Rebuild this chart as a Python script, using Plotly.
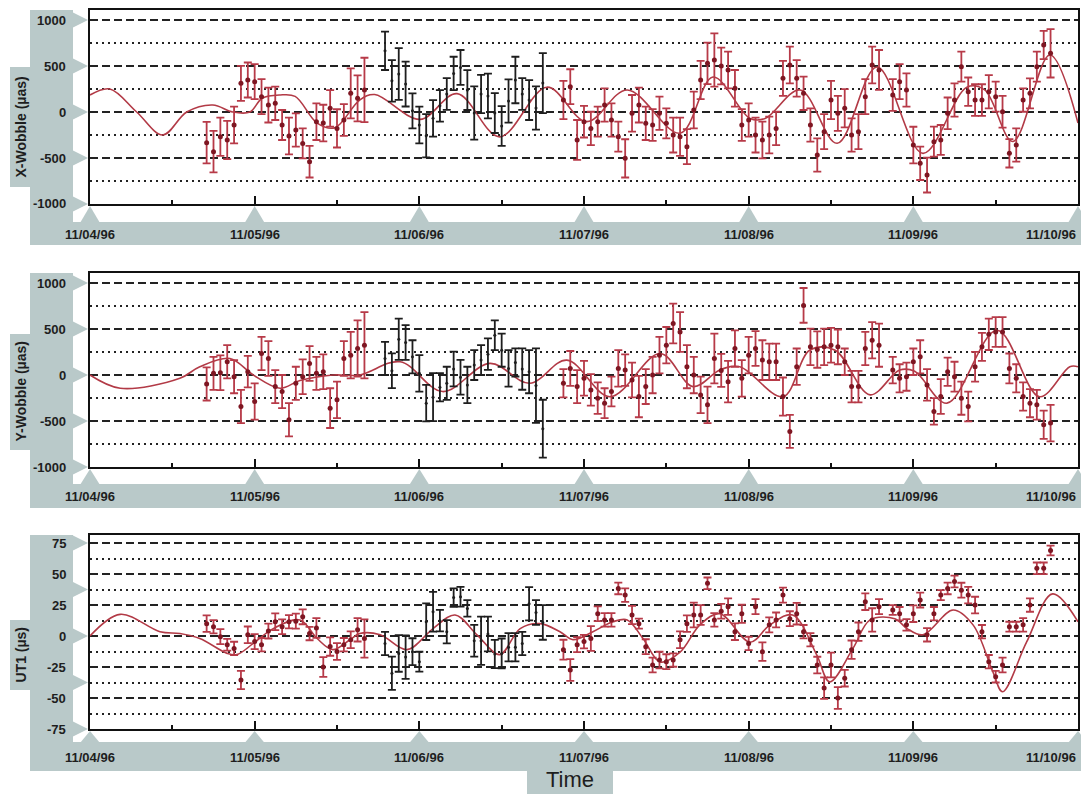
import plotly.graph_objects as go

W, H = 1081, 794
X0_PX, X1_PX = 90, 1078
H_MAX = 144  # hours shown (11/04 00:00 .. 11/10 00:00)

TICK_HOURS = [0, 24, 48, 72, 96, 120, 144]
TICK_LABELS = ["11/04/96", "11/05/96", "11/06/96", "11/07/96", "11/08/96", "11/09/96", "11/10/96"]

# observation epochs (hours since 11/04/96 00:00)
HOURS_RED = [17, 18, 19, 20, 21, 22, 23, 24, 25, 26, 27, 28, 29, 30, 31, 32, 33, 34, 35, 36, 37, 38, 39, 40,
             69, 70, 71, 72, 73, 74, 75, 76, 77, 78, 79, 80, 81, 82, 83, 84, 85, 86, 87, 88, 89, 90, 91, 92,
             93, 94, 95, 96, 97, 98, 99, 100, 101, 102, 103, 104, 105, 106, 107, 108, 109, 110, 111, 112, 113,
             114, 115,
             117, 118, 119, 120, 121, 122, 123, 124, 125, 126, 127, 128, 129, 130, 131, 132, 133, 134, 135,
             136, 137, 138, 139, 140]
HOURS_BLACK = [43, 44, 45, 46, 47, 48, 49, 50, 51, 52, 53, 54, 55, 56, 57, 58, 59, 60, 61, 62, 63, 64, 65, 66]

# ---- X-Wobble (µas) ----
X_RED = [-333, -431, -268, -304, -141, 312, 348, 330, 167, 76, 94, -141, -261, -196, -341, -540, -105, -120, 40,
         -178, -87, 203, 149, 240,
         130, 275, -304, -105, -178, -105, 76, -87, -268, -504, -14, 76, -123, -141, -14, -123, -250, -268, -377,
         22, 348, 529, 565, 500,
         457, 258, -141, -87, -250, -304, -250, -178, 366, 511, 366, 203, -141, -467, -214, 130, -14, 40, -250,
         -214, 167, 511, 457,
         185, 330, 239, -359, -558, -685, -322, -304, -14, 130, 493, 221, 130, 130, 221, 167, 3, -449, -359, 130,
         203, 493, 728, 638]
X_RED_ERR = [226, 226, 208, 208, 199, 190, 190, 190, 190, 190, 181, 163, 199, 181, 163, 172, 199, 199, 199, 208,
             172, 272, 250, 350,
             208, 190, 217, 172, 181, 163, 181, 181, 163, 208, 199, 190, 181, 172, 181, 163, 190, 208, 190, 199,
             208, 226, 290, 200,
             199, 199, 172, 181, 190, 199, 199, 181, 190, 199, 199, 181, 181, 181, 190, 208, 190, 208, 181, 190,
             190, 199, 217,
             172, 190, 181, 199, 181, 190, 163, 163, 172, 181, 163, 154, 172, 172, 181, 163, 172, 154, 181, 127,
             163, 163, 154, 263]
X_BLACK = [665, 339, 413, 304, 13, -141, -259, -69, 67, 196, 420, 484, 239, -11, 196, 174, -11, -152, 120, 348,
           196, 130, 43, 315]
X_BLACK_ERR = [208, 226, 281, 244, 190, 199, 235, 199, 172, 172, 181, 190, 217, 290, 208, 244, 217, 217, 235, 253,
               172, 217, 235, 326]
X_MODEL_H = [0, 2.9, 6.8, 10.6, 14.1, 17.9, 20.8, 23.3, 25.1, 27.7, 29.9, 33.1, 35.7, 39.3, 41.5, 48.1, 53.5,
             59.7, 66.6, 72.4, 78.3, 86.0, 90.8, 96.2, 98.4, 103.5, 108.9, 114.7, 121.4, 127.8, 130.4, 134.5,
             139.9, 144]
X_MODEL = [185, 250, 0, -250, 0, 76, 0, 0, 150, 185, 170, -120, -170, 130, 190, -80, 200, -270, 270, -105, 240,
           -230, 380, -70, -70, 240, -340, 490, -450, 270, 240, -320, 620, -120]

# ---- Y-Wobble (µas) ----
Y_RED = [-97, 18, 25, 144, -18, -342, 36, -288, 234, 180, -126, -180, -486, -90, -18, 126, 18, 36, -360, -270,
         180, 216, 288, 324,
         -90, 72, -126, -36, -162, -252, -306, -180, 72, 54, -54, -234, -126, 0, 216, 324, 559, 468, 90, 0, -216,
         -324, 180, 50,
         -72, 288, -36, 216, 288, 162, 144, 144, -234, -613, 90, 757, 306, 277, 306, 324, 306, 144, -126, -126,
         288, 378, 324,
         54, -36, -18, 144, 198, -108, -396, -234, 36, -18, -252, -342, 90, 306, 443, 468, 468, 72, -36, -234,
         -306, -324, -541, -523]
Y_RED_ERR = [180, 180, 189, 180, 180, 180, 171, 198, 180, 189, 180, 180, 180, 180, 189, 189, 180, 189, 216, 198,
             189, 252, 306, 360,
             153, 189, 180, 189, 171, 171, 162, 162, 198, 171, 189, 225, 189, 198, 198, 198, 216, 216, 234, 198,
             198, 198, 270, 180,
             225, 198, 198, 198, 189, 216, 198, 198, 207, 180, 198, 189, 198, 198, 198, 189, 189, 144, 171, 171,
             180, 198, 234,
             144, 153, 153, 144, 180, 171, 144, 189, 153, 162, 180, 162, 162, 153, 171, 162, 162, 162, 153, 153,
             153, 162, 153, 198]
Y_BLACK = [180, 47, 389, 353, 198, 18, -306, -241, -133, -90, 65, -25, -108, 108, 162, 227, 432, 270, 72, 137,
           65, 36, -115, -584]
Y_BLACK_ERR = [180, 189, 225, 189, 180, 198, 198, 261, 153, 180, 189, 189, 198, 162, 162, 171, 162, 180, 198, 153,
               225, 234, 405, 315]
Y_MODEL_H = [0, 4.4, 13.1, 16.0, 20.4, 23.8, 27.7, 30.6, 35.4, 39.3, 45.2, 51.4, 58.3, 64.1, 69.5, 75.8, 83.1,
             87.9, 91.8, 94.7, 101.0, 104.9, 108.6, 113.7, 118.0, 120.2, 124.9, 132.2, 138.4, 142.8, 144]
Y_MODEL = [0, -144, -36, 90, 180, 0, -144, -60, 0, 0, 144, -180, 126, -90, 162, -236, 234, -126, 54, 90, -236,
           270, 270, -216, 54, 40, -306, 487, -236, 90, 90]

# ---- UT1 (µs) ----
U_RED = [10, 7.5, -0.5, -7, -10, -35.5, 1, -4.5, -7, 4, 11.5, 7.5, 11.5, 12, 15.5, 2, 6.5, -25, -8.5, -12.5, -7,
         -3, 5, -2,
         -11, -27.4, -7, -4.5, -2, 18, 13, 13, 38.4, 33, 17, 10, -8.6, -23.4, -19.4, -20.7, -19.4, -3, 10, 17, 17,
         42.5, 13, 20,
         23.7, 3.5, 18, -6, 23.7, -12.6, 9, 13, 33, 14, 18, 3.5, -3, -23.4, -42, -23.4, -50, -34, -11, 3.5, 27.7,
         13, 23.7,
         21, 18, 9, 18, 29, 1, 18, 33, 38.4, 44, 37, 33, 25, 3.5, -20.7, -32.8, -23.4, 7.5, 7.5, 9, 25, 54.6,
         54.6, 69]
U_RED_ERR = [6.7, 5.4, 6, 4.7, 5.4, 7.4, 6.7, 6, 5.4, 6, 6.7, 6, 5.4, 6, 6, 5.4, 8, 8, 7.4, 6.7, 5.4, 6.7, 9.4,
             15.5,
             8, 8.7, 6, 5.4, 10, 6, 5.4, 5.4, 4.7, 5.4, 7.4, 4, 6, 6, 6.7, 6, 5.4, 6.7, 6.7, 10, 8, 4.7, 5.4, 6,
             6.7, 6.7, 7.4, 5.4, 6, 7.4, 6, 6, 6, 6, 8.7, 5.4, 5.4, 6.7, 8.7, 10, 8.7, 6.7, 7.4, 7.4, 6.7, 9.4, 6,
             4, 5.4, 4.7, 6.7, 6, 5.4, 5.4, 4, 4.7, 4.7, 6, 6.7, 6.7, 5.4, 5.4, 4.7, 6, 4, 4, 5.4, 5.4, 4.7, 4.7, 4]
U_BLACK = [-6, -30, -14, -17, -12.6, -20.7, 11.6, 19.6, 12.4, 3.5, 31, 31.7, 22.3, -3.8, -3.8, 1.6, -14.5, -14,
           -9, -9, -6, 26, 19, 11]
U_BLACK_ERR = [9.4, 13.4, 14.8, 17.5, 10.8, 8, 14.8, 16, 8.7, 9.4, 7.4, 8, 6.7, 12.8, 19.5, 14, 11.4, 12, 11.4,
               11.4, 9.4, 13.4, 10, 14]
U_MODEL_H = [0, 4.4, 10.2, 13.1, 16.0, 20.0, 21.4, 23.8, 26.7, 30.6, 33.1, 35.4, 37.9, 39.3, 42.3, 46.2, 50.0,
             53.2, 56.4, 59.7, 62.7, 65.6, 68.5, 70.4, 73.3, 76.2, 78.3, 80.6, 83.1, 86.0, 88.9, 91.8, 96.2, 99.1,
             102.4, 105.9, 107.8, 111.2, 113.7, 117.3, 119.1, 121.4, 125.8, 128.7, 131.6, 133.0, 136.5, 140.3, 144]
U_MODEL = [0, 17.5, 3.5, 2, -2, -14, -15, -6, 6, 13, -2, -11, -3, 2, 1, -11, 6, 17, 1, -15, 6, 10, 3.5, -3, 3.5,
           11.5, 13, -2, -21, -13, 9, 18, -5, 9, 17, -15, -37, -10, 13, 14, 6, 1, 21, 9, -29, -45, -5, 34, 11.5]

PANELS = [
    dict(title="X-Wobble (µas)", top=10, bottom=204, band_top=222, band_bot=245, label_y=234, strip=(67, 187),
         yrange=[-1000, 1109], dtick=500, minor=250, labels=[1000, 500, 0, -500, -1000],
         pointers=[1000, 500, 0, -500, -1000],
         red=X_RED, red_err=X_RED_ERR, black=X_BLACK, black_err=X_BLACK_ERR, mh=X_MODEL_H, mv=X_MODEL),
    dict(title="Y-Wobble (µas)", top=273, bottom=467, band_top=484, band_bot=508, label_y=496, strip=(334, 450),
         yrange=[-1000, 1109], dtick=500, minor=250, labels=[1000, 500, 0, -500, -1000],
         pointers=[1000, 500, 0, -500, -1000],
         red=Y_RED, red_err=Y_RED_ERR, black=Y_BLACK, black_err=Y_BLACK_ERR, mh=Y_MODEL_H, mv=Y_MODEL),
    dict(title="UT1 (µs)", top=535, bottom=729, band_top=742, band_bot=771, label_y=757, strip=(620, 690),
         yrange=[-75, 81.5], dtick=25, minor=12.5, labels=[75, 50, 25, 0, -25, -50, -75],
         pointers=[75, 37.5, 0, -37.5, -75],
         red=U_RED, red_err=U_RED_ERR, black=U_BLACK, black_err=U_BLACK_ERR, mh=U_MODEL_H, mv=U_MODEL),
]

BAND = "#b9c9c9"
INK = "#1e1e1e"
RED_LINE = "#b23a46"
RED_BAR = "#b73a48"
RED_DOT = "#7e1622"
FONT = "Liberation Sans, Arial, sans-serif"


def pxx(x):
    return x / W


def pxy(y):
    return 1 - y / H


def hour_px(h):
    return X0_PX + h / H_MAX * (X1_PX - X0_PX)


def val_py(p, v):
    lo, hi = p["yrange"]
    return p["top"] + (hi - v) / (hi - lo) * (p["bottom"] - p["top"])


fig = go.Figure()
shapes = []
annotations = []
layout = {}

for i, p in enumerate(PANELS):
    n = "" if i == 0 else str(i + 1)
    xref, yref = "x" + n, "y" + n
    # model curve
    fig.add_trace(go.Scatter(x=p["mh"], y=p["mv"], mode="lines", xaxis=xref, yaxis=yref,
                             line=dict(color=RED_LINE, width=1.6, shape="spline", smoothing=1.0),
                             hoverinfo="skip"))
    # black (other network) observations
    fig.add_trace(go.Scatter(x=HOURS_BLACK, y=p["black"], mode="markers", xaxis=xref, yaxis=yref,
                             marker=dict(size=3, color=INK),
                             error_y=dict(type="data", array=p["black_err"], color=INK, thickness=1.8, width=4)))
    # red observations
    fig.add_trace(go.Scatter(x=HOURS_RED, y=p["red"], mode="markers", xaxis=xref, yaxis=yref,
                             marker=dict(size=5, color=RED_DOT),
                             error_y=dict(type="data", array=p["red_err"], color=RED_BAR, thickness=1.8, width=4)))

    layout["xaxis" + n] = dict(domain=[X0_PX / W, X1_PX / W], range=[0, H_MAX], anchor=yref,
                               showgrid=False, zeroline=False, showline=True, linecolor="#111", linewidth=2,
                               mirror=True, ticks="inside", ticklen=8, tickwidth=2, tickcolor="#111",
                               tickmode="linear", tick0=0, dtick=24, showticklabels=False,
                               minor=dict(ticks="inside", ticklen=4, tickwidth=2, tickcolor="#111",
                                          tickmode="linear", tick0=0, dtick=12, showgrid=False))
    layout["yaxis" + n] = dict(domain=[pxy(p["bottom"]), pxy(p["top"])], range=p["yrange"], anchor=xref,
                               tickmode="linear", tick0=0, dtick=p["dtick"], showticklabels=False, ticks="",
                               showgrid=True, gridcolor="#222", gridwidth=1.5, griddash="8px,4px",
                               zeroline=False, showline=True, linecolor="#111", linewidth=2, mirror=True,
                               minor=dict(tickmode="linear", tick0=0, dtick=p["minor"], showgrid=True,
                                          gridcolor="#222", gridwidth=1.5, griddash="2px,4px"))

    # grey bands
    shapes.append(dict(type="rect", xref="paper", yref="paper", x0=pxx(30), x1=pxx(73),
                       y0=pxy(p["band_bot"]), y1=pxy(p["top"]), fillcolor=BAND, line=dict(width=0)))
    shapes.append(dict(type="rect", xref="paper", yref="paper", x0=pxx(30), x1=1.0,
                       y0=pxy(p["band_bot"]), y1=pxy(p["band_top"]), fillcolor=BAND, line=dict(width=0)))
    shapes.append(dict(type="rect", xref="paper", yref="paper", x0=pxx(10), x1=pxx(31),
                       y0=pxy(p["strip"][1]), y1=pxy(p["strip"][0]), fillcolor=BAND, line=dict(width=0)))
    for v in p["pointers"]:
        yy = val_py(p, v)
        path = "M {:.5f},{:.5f} L {:.5f},{:.5f} L {:.5f},{:.5f} Z".format(
            pxx(72), pxy(yy - 8), pxx(88), pxy(yy), pxx(72), pxy(yy + 8))
        shapes.append(dict(type="path", xref="paper", yref="paper", path=path, fillcolor=BAND,
                           line=dict(width=0)))
    for h in TICK_HOURS:
        xx = hour_px(h)
        path = "M {:.5f},{:.5f} L {:.5f},{:.5f} L {:.5f},{:.5f} Z".format(
            pxx(xx - 10), pxy(p["band_top"] + 1), pxx(xx), pxy(p["bottom"] + 2), pxx(xx + 10),
            pxy(p["band_top"] + 1))
        shapes.append(dict(type="path", xref="paper", yref="paper", path=path, fillcolor=BAND,
                           line=dict(width=0)))

    # labels
    for v in p["labels"]:
        annotations.append(dict(xref="paper", yref=yref, x=pxx(68), y=v, text=str(v), showarrow=False,
                                xanchor="right", yanchor="middle",
                                font=dict(family=FONT, size=13, color=INK, weight="bold")))
    for h, lab in zip(TICK_HOURS, TICK_LABELS):
        last = h == TICK_HOURS[-1]
        annotations.append(dict(xref=xref, yref="paper", x=h, y=pxy(p["label_y"]), text=lab, showarrow=False,
                                xanchor="right" if last else "center", xshift=0, yanchor="middle",
                                font=dict(family=FONT, size=13, color=INK, weight="bold")))
    annotations.append(dict(xref="paper", yref="paper", x=pxx(20.5), y=pxy((p["strip"][0] + p["strip"][1]) / 2),
                            text=p["title"], textangle=-90, showarrow=False, xanchor="center",
                            yanchor="middle", font=dict(family=FONT, size=14, color=INK, weight="bold")))

# "Time" box
shapes.append(dict(type="rect", xref="paper", yref="paper", x0=pxx(527), x1=pxx(613), y0=0.0,
                   y1=pxy(PANELS[2]["band_bot"]), fillcolor=BAND, line=dict(width=0)))
annotations.append(dict(xref="paper", yref="paper", x=pxx(570), y=pxy(779.5), text="Time", showarrow=False,
                        xanchor="center", yanchor="middle", font=dict(family=FONT, size=22, color=INK)))

fig.update_layout(width=W, height=H, autosize=False, margin=dict(l=0, r=0, t=0, b=0),
                  paper_bgcolor="white", plot_bgcolor="white", showlegend=False,
                  shapes=shapes, annotations=annotations, **layout)

fig.write_html("out.html", config={"displayModeBar": False},
               post_script="document.body.style.margin='0px';document.body.style.overflow='hidden';")
